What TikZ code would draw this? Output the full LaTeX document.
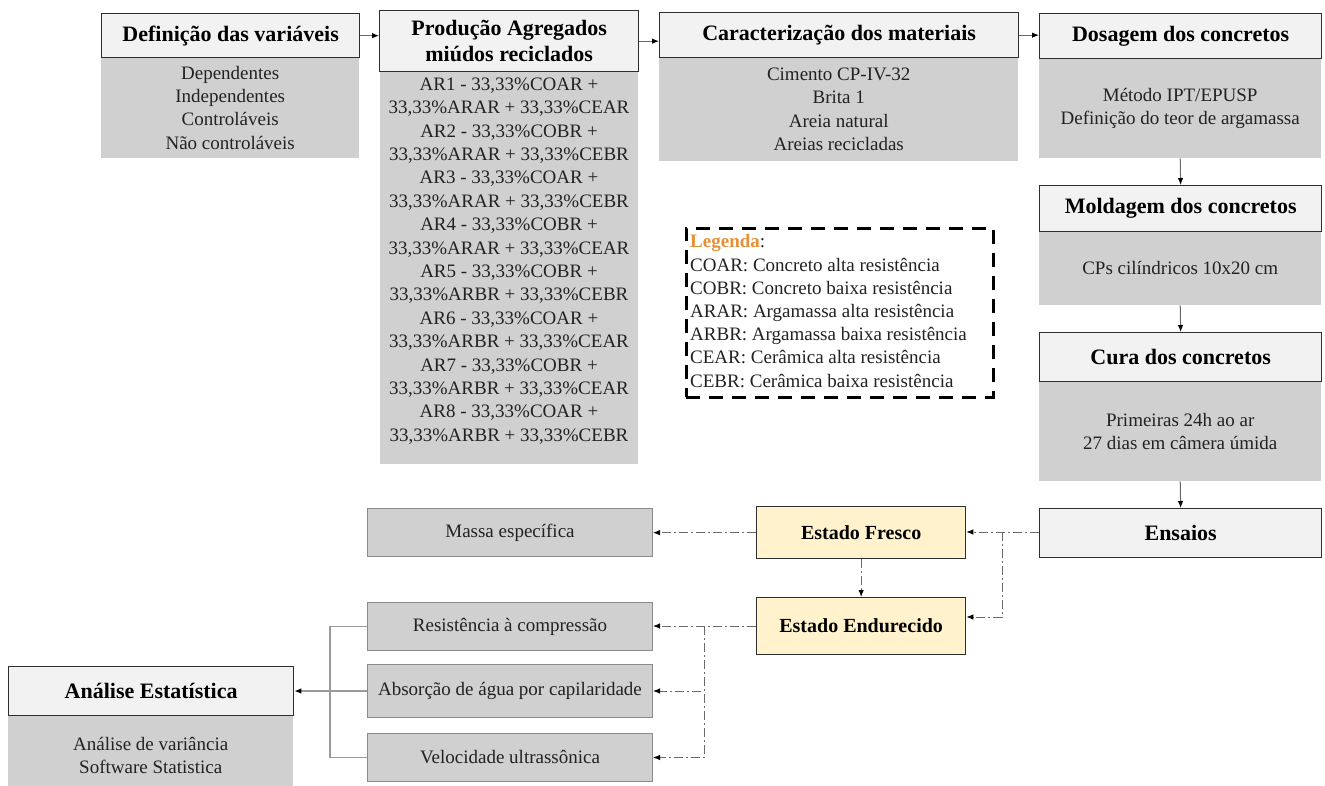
\documentclass[tikz,border=0pt]{standalone}
\usepackage{fontspec}
\setmainfont{Liberation Serif}
\usetikzlibrary{arrows.meta}
\definecolor{hdrfill}{HTML}{F2F2F2}
\definecolor{bodyfill}{HTML}{D0D0D0}
\definecolor{statefill}{HTML}{FFF2CC}
\definecolor{edgecol}{HTML}{2E2E2E}
\definecolor{leafline}{HTML}{8A8A8A}
\definecolor{legorange}{HTML}{E69138}
\definecolor{linkgray}{HTML}{6A6A6A}
\definecolor{treegray}{HTML}{9A9A9A}
\definecolor{txtcol}{HTML}{222222}

\begin{document}
\begin{tikzpicture}[x=1pt,y=-1pt,
  hdr/.style={draw=edgecol, fill=hdrfill, line width=1.3pt, inner sep=0pt,
    anchor=north west, align=center, text=black,
    font=\fontsize{22}{26}\selectfont\bfseries},
  bodyb/.style={fill=bodyfill, inner sep=0pt, anchor=north west, align=center,
    text=txtcol, font=\fontsize{19}{23.3}\selectfont},
  bodytxt/.style={inner sep=0pt, align=center, text=txtcol,
    font=\fontsize{19}{23.4}\selectfont},
  leaf/.style={draw=leafline, fill=bodyfill, line width=1pt, inner sep=0pt,
    anchor=north west, align=center, text=txtcol,
    font=\fontsize{19}{23}\selectfont},
  state/.style={draw=edgecol, fill=statefill, line width=1.3pt, inner sep=0pt,
    anchor=north west, align=center, text=black,
    font=\fontsize{20}{24}\selectfont\bfseries},
  tip/.style={-{Latex[length=7pt,width=5.5pt,color=black]}},
  flow/.style={draw=linkgray, line width=1pt, tip},
  dd/.style={draw=linkgray, line width=1pt,
    dash pattern=on 9pt off 3pt on 2pt off 3pt},
  ddarrow/.style={dd, tip},
  tree/.style={draw=treegray, line width=1.2pt},
  legendbox/.style={draw=black, line width=2.8pt, dash pattern=on 14pt off 9pt,
    inner sep=0pt, anchor=north west}
]
\useasboundingbox (0,0) rectangle (1325,785);
\fill[white] (0,0) rectangle (1325,785);

% --- grey bodies under the headers
\node[bodyb, minimum width=258pt, minimum height=101pt] (defb) at (101,57)
  {Dependentes\\Independentes\\Controláveis\\Não controláveis};
\node[bodyb, minimum width=258pt, minimum height=393pt] (prodb) at (380,71) {};
\node[bodytxt] (prodt) at (509,261)
  {AR1 - 33,33\%COAR +\\33,33\%ARAR + 33,33\%CEAR\\
   AR2 - 33,33\%COBR +\\33,33\%ARAR + 33,33\%CEBR\\
   AR3 - 33,33\%COAR +\\33,33\%ARAR + 33,33\%CEBR\\
   AR4 - 33,33\%COBR +\\33,33\%ARAR + 33,33\%CEAR\\
   AR5 - 33,33\%COBR +\\33,33\%ARBR + 33,33\%CEBR\\
   AR6 - 33,33\%COAR +\\33,33\%ARBR + 33,33\%CEAR\\
   AR7 - 33,33\%COBR +\\33,33\%ARBR + 33,33\%CEAR\\
   AR8 - 33,33\%COAR +\\33,33\%ARBR + 33,33\%CEBR};
\node[bodyb, minimum width=359pt, minimum height=104pt] (carb) at (659,57)
  {Cimento CP-IV-32\\Brita 1\\Areia natural\\Areias recicladas};
\node[bodyb, minimum width=282pt, minimum height=100pt] (dosb) at (1039,58)
  {Método IPT/EPUSP\\Definição do teor de argamassa};
\node[bodyb, minimum width=282pt, minimum height=74pt] (moldb) at (1039,231)
  {CPs cilíndricos 10x20 cm};
\node[bodyb, minimum width=282pt, minimum height=100pt] (curab) at (1039,381)
  {Primeiras 24h ao ar\\27 dias em câmera úmida};
\node[bodyb, minimum width=285pt, minimum height=80pt] (anab) at (8,715)
  {Análise de variância\\Software Statistica};

% --- headers
\node[hdr, minimum width=258pt, minimum height=44pt] (def) at (101,13)
  {Definição das variáveis};
\node[hdr, minimum width=259pt, minimum height=61pt] (prod) at (379,10)
  {Produção Agregados\\miúdos reciclados};
\node[hdr, minimum width=359pt, minimum height=45pt] (car) at (659,12)
  {Caracterização dos materiais};
\node[hdr, minimum width=282pt, minimum height=45pt] (dos) at (1039,13)
  {Dosagem dos concretos};
\node[hdr, minimum width=282pt, minimum height=46pt] (mold) at (1039,185)
  {Moldagem dos concretos};
\node[hdr, minimum width=282pt, minimum height=49pt] (cura) at (1039,332)
  {Cura dos concretos};
\node[hdr, minimum width=282pt, minimum height=49pt] (ens) at (1039,508)
  {Ensaios};
\node[hdr, minimum width=285pt, minimum height=49pt] (ana) at (8,666)
  {Análise Estatística};

% --- test states
\node[state, minimum width=209pt, minimum height=52pt] (fre) at (756,506)
  {Estado Fresco};
\node[state, minimum width=209pt, minimum height=57pt] (endu) at (756,597)
  {Estado Endurecido};

% --- measured properties
\node[leaf, minimum width=285pt, minimum height=48pt] (mas) at (367,508)
  {Massa específica};
\node[leaf, minimum width=285pt, minimum height=48pt] (res) at (367,602)
  {Resistência à compressão};
\node[leaf, minimum width=285pt, minimum height=53pt] (abs) at (367,664)
  {Absorção de água por capilaridade};
\node[leaf, minimum width=285pt, minimum height=48pt] (vel) at (367,733)
  {Velocidade ultrassônica};

% --- legend
\node[legendbox, minimum width=307pt, minimum height=169pt] (leg) at (685,227) {};
\node[anchor=west, align=left, inner sep=0pt, text=txtcol,
  font=\fontsize{19}{23.2}\selectfont] (legt) at (690,311)
  {\textcolor{legorange}{\bfseries Legenda}:\\
   COAR: Concreto alta resistência\\
   COBR: Concreto baixa resistência\\
   ARAR: Argamassa alta resistência\\
   ARBR: Argamassa baixa resistência\\
   CEAR: Cerâmica alta resistência\\
   CEBR: Cerâmica baixa resistência};

% --- main sequence
\draw[flow] (def.east) -- (def.east -| prod.west);
\draw[flow] (prod.east) -- (prod.east -| car.west);
\draw[flow] (car.east) -- (car.east -| dos.west);
\draw[flow] (dosb.south) -- (mold.north);
\draw[flow] (moldb.south) -- (cura.north);
\draw[flow] (curab.south) -- (ens.north);

% --- test branches
\coordinate (j1) at (1002,532);
\coordinate (j1b) at (1002,617);
\draw[ddarrow] (ens.west |- j1) -- (j1 -| fre.east);
\draw[ddarrow] (j1) -- (j1b) -- (j1b -| endu.east);
\draw[ddarrow] (fre.west) -- (fre.west -| mas.east);
\draw[ddarrow] (fre.south) -- (endu.north);

\coordinate (j2) at (704,626);
\draw[ddarrow] (endu.west |- j2) -- (j2 -| res.east);
\draw[ddarrow] (j2) |- (abs.east);
\draw[ddarrow] (j2) |- (vel.east);

% --- results to statistics
\coordinate (k) at (330,626);
\draw[tree] (res.west) -- (res.west -| k) |- (vel.west);
\draw[tree, tip] (abs.west) -- (abs.west -| ana.east);
\end{tikzpicture}
\end{document}
